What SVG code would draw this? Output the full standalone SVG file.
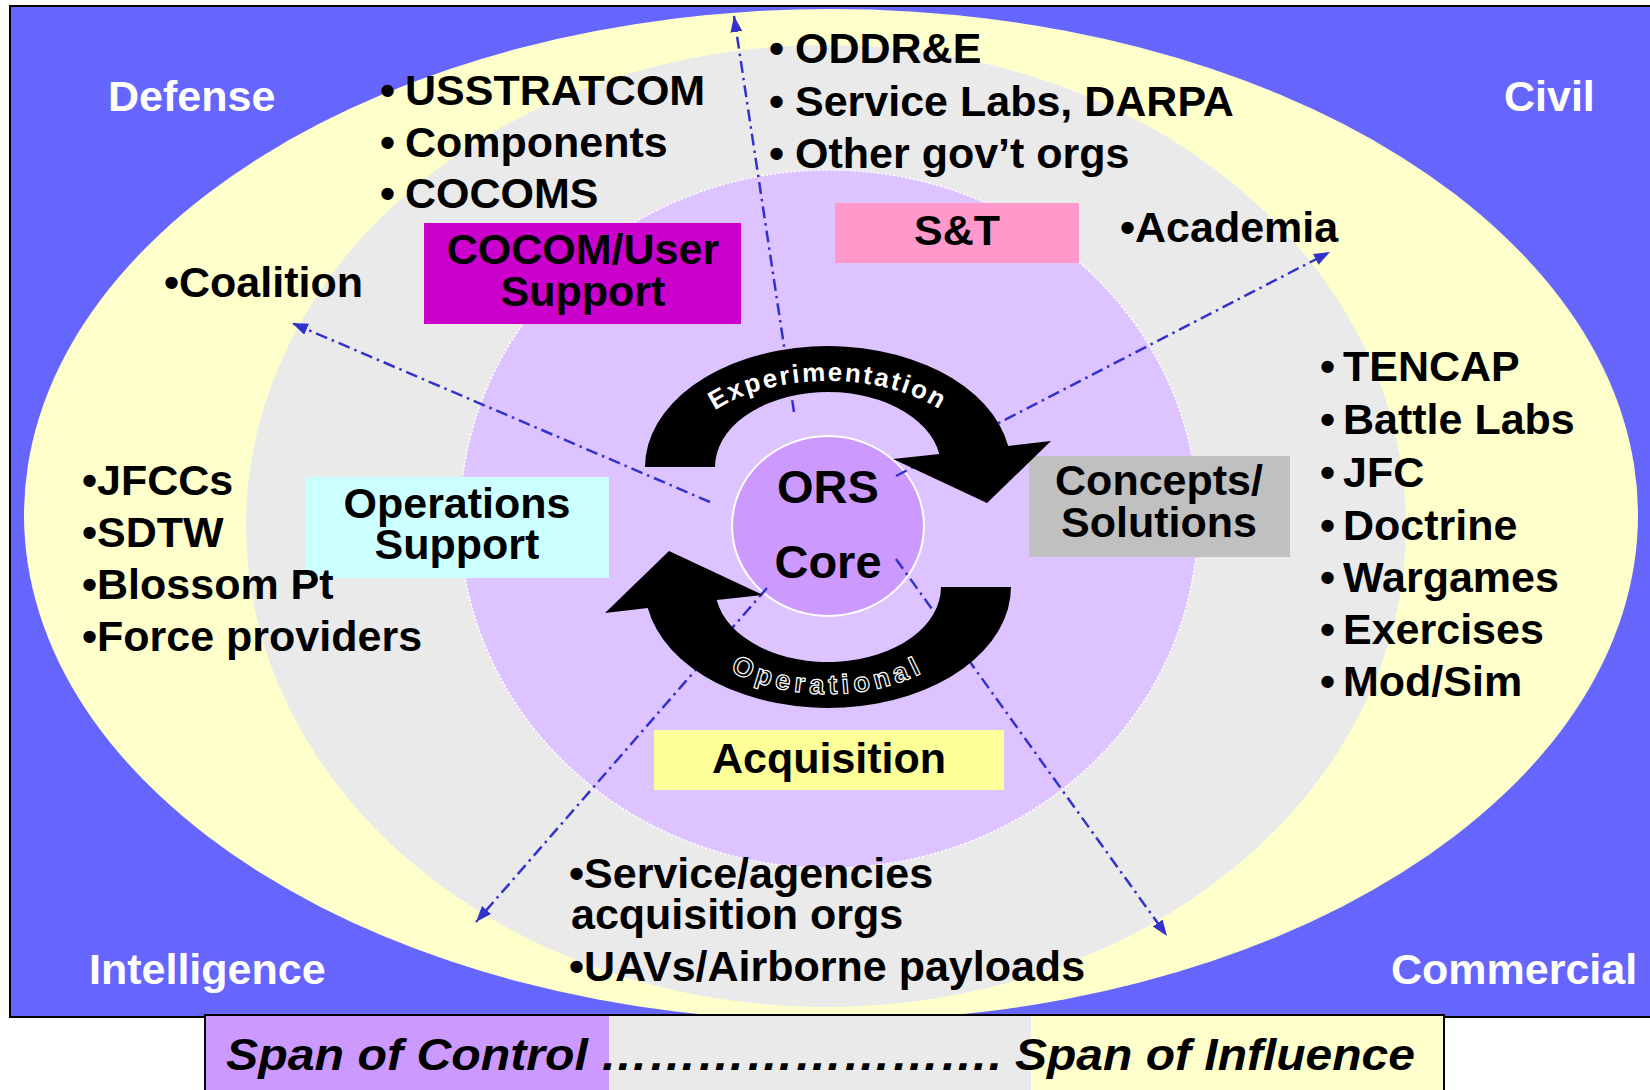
<svg xmlns="http://www.w3.org/2000/svg" width="1650" height="1090" viewBox="0 0 1650 1090">
<style>
  text { font-family: "Liberation Sans", Arial, sans-serif; font-weight: bold; }
  .t { font-size: 43px; fill: #000; }
  .w { font-size: 43px; fill: #fff; }
  .c { text-anchor: middle; }
  .conn { fill: none; stroke: #3333CC; stroke-width: 2.5; stroke-dasharray: 12 5 2.5 5; marker-end: url(#ah); }
  .span { font-size: 44px; font-style: italic; fill: #000; }
  .cyc { fill: #000; }
</style>
<defs>
  <marker id="ah" markerUnits="userSpaceOnUse" markerWidth="18" markerHeight="14" refX="16" refY="6" orient="auto">
    <path d="M0,0 L16,6 L0,12 Z" fill="#3333CC" stroke="none"/>
  </marker>
  <path id="cycpath" d="M715,467 L645,467 A183,121 0 0 1 1008.2,446 L1051,441 L987,503 L893,459 L939.3,454 A113,75 0 0 0 715,467 Z"/>
  <path id="tp1" d="M678,467 A150,86 0 0 1 978,467"/>
  <path id="tp2" d="M670,587 A158,107 0 0 0 986,587"/>
</defs>

<g id="background">
  <rect x="10" y="6" width="1660" height="1011" fill="#6666FF"/>
  <ellipse cx="831" cy="515" rx="807" ry="506" fill="#FFFFCC"/>
  <ellipse cx="826" cy="526" rx="580" ry="481" fill="#EAEAEA"/>
  <ellipse cx="829" cy="519" rx="369" ry="349" fill="#DDC3FF" stroke="#FFFFFF" stroke-width="1.5" stroke-dasharray="2 2"/>
  <rect x="10" y="6" width="1660" height="1011" fill="none" stroke="#000" stroke-width="2"/>
</g>

<g id="core">
  <ellipse cx="828" cy="526" rx="96" ry="90" fill="#CC99FF" stroke="#FFFFFF" stroke-width="2"/>
</g>

<g id="box-cocom">
  <rect x="424" y="223" width="317" height="101" fill="#CC00CC"/>
  <text class="t c" x="583" y="264">COCOM/User</text>
  <text class="t c" x="583" y="306">Support</text>
</g>
<g id="box-st">
  <rect x="835" y="203" width="244" height="60" fill="#FF99CC"/>
  <text class="t c" x="957" y="245">S&amp;T</text>
</g>
<g id="box-concepts">
  <rect x="1029" y="456" width="261" height="101" fill="#C0C0C0"/>
  <text class="t c" x="1159" y="495">Concepts/</text>
  <text class="t c" x="1159" y="537">Solutions</text>
</g>
<g id="box-ops">
  <rect x="306" y="477" width="303" height="101" fill="#CCFFFF"/>
  <text class="t c" x="457" y="518">Operations</text>
  <text class="t c" x="457" y="559">Support</text>
</g>
<g id="box-acq">
  <rect x="654" y="730" width="350" height="60" fill="#FFFF99"/>
  <text class="t c" x="829" y="773">Acquisition</text>
</g>

<g id="corner-labels">
  <text id="defense" class="w" x="108" y="111">Defense</text>
  <text id="civil" class="w" x="1504" y="111">Civil</text>
  <text id="intelligence" class="w" x="89" y="984">Intelligence</text>
  <text id="commercial" class="w" x="1391" y="984">Commercial</text>
</g>

<g id="list-cocom">
  <text class="t" x="380" y="105">•</text><text class="t" x="405" y="105">USSTRATCOM</text>
  <text class="t" x="380" y="157">•</text><text class="t" x="405" y="157">Components</text>
  <text class="t" x="380" y="208">•</text><text class="t" x="405" y="208">COCOMS</text>
</g>

<g id="list-st">
  <text class="t" x="769" y="63">•</text><text class="t" x="795" y="63">ODDR&amp;E</text>
  <text class="t" x="769" y="116">•</text><text class="t" x="795" y="116">Service Labs, DARPA</text>
  <text class="t" x="769" y="168">•</text><text class="t" x="795" y="168">Other gov’t orgs</text>
</g>

<g id="academia"><text class="t" x="1120" y="242">•Academia</text></g>
<g id="coalition"><text class="t" x="164" y="297">•Coalition</text></g>

<g id="list-concepts">
  <text class="t" x="1320" y="381">•</text><text class="t" x="1343" y="381">TENCAP</text>
  <text class="t" x="1320" y="434">•</text><text class="t" x="1343" y="434">Battle Labs</text>
  <text class="t" x="1320" y="487">•</text><text class="t" x="1343" y="487">JFC</text>
  <text class="t" x="1320" y="540">•</text><text class="t" x="1343" y="540">Doctrine</text>
  <text class="t" x="1320" y="592">•</text><text class="t" x="1343" y="592">Wargames</text>
  <text class="t" x="1320" y="644">•</text><text class="t" x="1343" y="644">Exercises</text>
  <text class="t" x="1320" y="696">•</text><text class="t" x="1343" y="696">Mod/Sim</text>
</g>

<g id="list-ops">
  <text class="t" x="82" y="495">•JFCCs</text>
  <text class="t" x="82" y="547">•SDTW</text>
  <text class="t" x="82" y="599">•Blossom Pt</text>
  <text class="t" x="82" y="651">•Force providers</text>
</g>

<g id="list-acq">
  <text class="t" x="569" y="888">•Service/agencies</text>
  <text class="t" x="571" y="929">acquisition orgs</text>
  <text class="t" x="569" y="981">•UAVs/Airborne payloads</text>
</g>

<g id="connectors">
  <line class="conn" x1="794" y1="412" x2="734" y2="16"/>
  <line class="conn" x1="710" y1="502" x2="292" y2="323"/>
  <line class="conn" x1="896" y1="476" x2="1330" y2="252"/>
  <line class="conn" x1="767" y1="588" x2="476" y2="922"/>
  <line class="conn" x1="896" y1="559" x2="1167" y2="936"/>
</g>

<g id="cycle-experimentation">
  <use href="#cycpath" class="cyc"/>
  <text fill="#fff" font-size="26" letter-spacing="2.2"><textPath href="#tp1" startOffset="50%" text-anchor="middle">Experimentation</textPath></text>
</g>
<g id="cycle-operational">
  <use href="#cycpath" class="cyc" transform="rotate(180 828 527)"/>
  <text fill="#000" stroke="#fff" stroke-width="1.2" font-size="27" letter-spacing="4.8"><textPath href="#tp2" startOffset="50%" text-anchor="middle">Operational</textPath></text>
</g>

<g id="core-label">
  <text class="c" x="828" y="503" font-size="47">ORS</text>
  <text class="c" x="828" y="578" font-size="47">Core</text>
</g>

<g id="span-bar">
  <rect x="205" y="1015" width="404" height="80" fill="#CC99FF"/>
  <rect x="609" y="1015" width="422" height="80" fill="#EAEAEA"/>
  <rect x="1031" y="1015" width="413" height="80" fill="#FFFFCC"/>
  <rect x="205" y="1015" width="1239" height="80" fill="none" stroke="#000" stroke-width="2"/>
  <text class="span" x="226" y="1070" textLength="362" lengthAdjust="spacingAndGlyphs">Span of Control</text>
  <text class="span" x="600" y="1070" textLength="402" lengthAdjust="spacingAndGlyphs">…………………….</text>
  <text class="span" x="1015" y="1070" textLength="400" lengthAdjust="spacingAndGlyphs">Span of Influence</text>
</g>
</svg>
